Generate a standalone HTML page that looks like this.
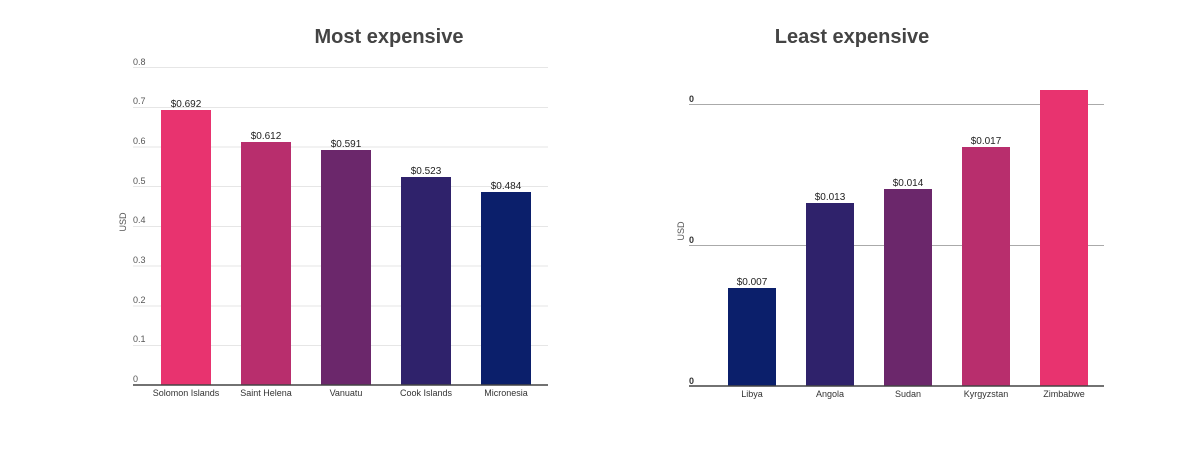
<!DOCTYPE html>
<html><head><style>body{margin:0;background:#fff}svg{display:block}</style></head><body>
<svg width="1187" height="450" xmlns="http://www.w3.org/2000/svg" font-family="Liberation Sans, Arial, sans-serif">
<text x="389" y="43" text-anchor="middle" font-size="20" font-weight="bold" fill="#444">Most expensive</text>
<text x="852" y="43" text-anchor="middle" font-size="20" font-weight="bold" fill="#444">Least expensive</text>
<g stroke="#e6e6e6" stroke-width="1">
<line x1="133" x2="548" y1="67.5" y2="67.5"/><line x1="133" x2="548" y1="107.5" y2="107.5"/><line x1="133" x2="548" y1="147" y2="147"/><line x1="133" x2="548" y1="186.5" y2="186.5"/><line x1="133" x2="548" y1="226.5" y2="226.5"/><line x1="133" x2="548" y1="266" y2="266"/><line x1="133" x2="548" y1="306" y2="306"/><line x1="133" x2="548" y1="345.5" y2="345.5"/>
</g>
<g font-size="9" fill="#555">
<text x="133" y="65">0.8</text><text x="133" y="104">0.7</text><text x="133" y="144">0.6</text><text x="133" y="184">0.5</text><text x="133" y="223">0.4</text><text x="133" y="263">0.3</text><text x="133" y="303">0.2</text><text x="133" y="342">0.1</text><text x="133" y="382">0</text>
</g>
<text transform="translate(126,222) rotate(-90)" text-anchor="middle" font-size="9" fill="#555">USD</text>
<rect x="161" y="110" width="50" height="275" fill="#e8336f"/>
<rect x="241" y="142" width="50" height="243" fill="#b82e6d"/>
<rect x="321" y="150" width="50" height="235" fill="#6b276b"/>
<rect x="401" y="177" width="50" height="208" fill="#2f226b"/>
<rect x="481" y="192" width="50" height="193" fill="#0b1f6b"/>
<line x1="133" x2="548" y1="385" y2="385" stroke="#444" stroke-width="1.5"/>
<g font-size="10" fill="#222" text-anchor="middle">
<text x="186" y="107">$0.692</text><text x="266" y="139">$0.612</text><text x="346" y="147">$0.591</text><text x="426" y="174">$0.523</text><text x="506" y="189">$0.484</text>
</g>
<g font-size="9" fill="#333" text-anchor="middle">
<text x="186" y="396">Solomon Islands</text><text x="266" y="396">Saint Helena</text><text x="346" y="396">Vanuatu</text><text x="426" y="396">Cook Islands</text><text x="506" y="396">Micronesia</text>
</g>
<g stroke="#aaa" stroke-width="1"><line x1="689" x2="1104" y1="104.5" y2="104.5"/><line x1="689" x2="1104" y1="245.5" y2="245.5"/></g>
<g font-size="9" font-weight="bold" fill="#333"><text x="689" y="102">0</text><text x="689" y="243">0</text><text x="689" y="384">0</text></g>
<text transform="translate(684,231) rotate(-90)" text-anchor="middle" font-size="9" fill="#555">USD</text>
<rect x="728" y="288" width="48" height="98" fill="#0b1f6b"/>
<rect x="806" y="203" width="48" height="183" fill="#2f226b"/>
<rect x="884" y="189" width="48" height="197" fill="#6b276b"/>
<rect x="962" y="147" width="48" height="239" fill="#b82e6d"/>
<rect x="1040" y="90" width="48" height="296" fill="#e8336f"/>
<line x1="689" x2="1104" y1="386" y2="386" stroke="#444" stroke-width="1.5"/>
<g font-size="10" fill="#222" text-anchor="middle">
<text x="752" y="285">$0.007</text><text x="830" y="200">$0.013</text><text x="908" y="186">$0.014</text><text x="986" y="144">$0.017</text>
</g>
<g font-size="9" fill="#333" text-anchor="middle">
<text x="752" y="397">Libya</text><text x="830" y="397">Angola</text><text x="908" y="397">Sudan</text><text x="986" y="397">Kyrgyzstan</text><text x="1064" y="397">Zimbabwe</text>
</g>
</svg>
</body></html>
